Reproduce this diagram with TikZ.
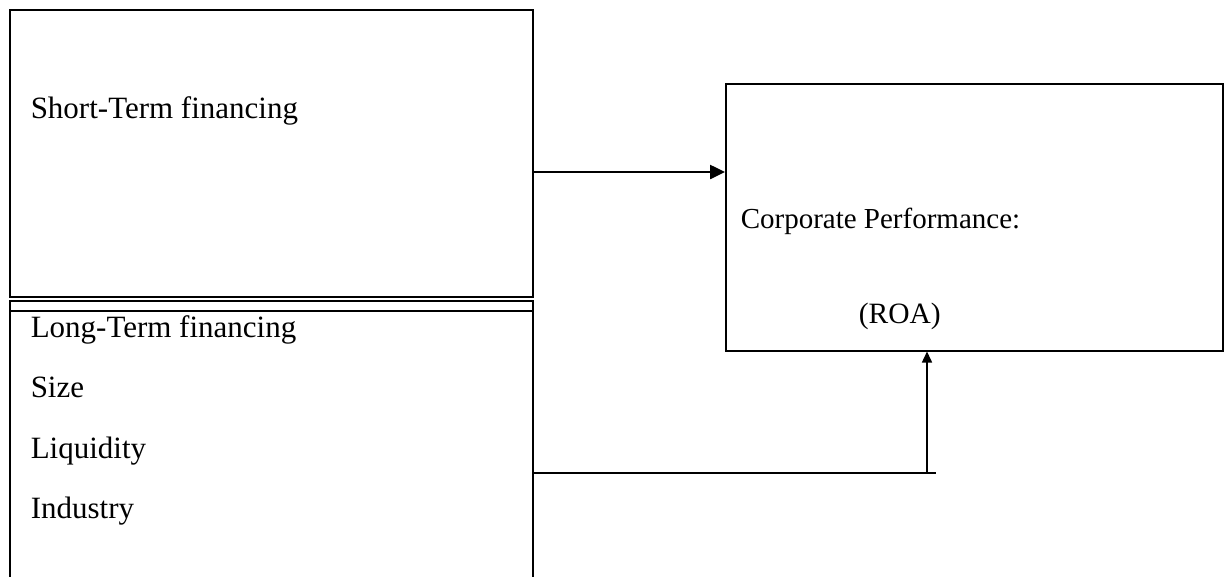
\documentclass[tikz,border=0pt]{standalone}
\usepackage{fontspec}
\setmainfont{Liberation Serif}
\usetikzlibrary{arrows.meta}

\begin{document}
\begin{tikzpicture}
  [x=1pt,y=-1pt,line width=1.5pt,
   box/.style={draw,rectangle,anchor=north west,inner sep=0pt},
   txt/.style={anchor=base west,inner sep=0pt,font=\fontsize{31}{36}\selectfont}]
  \useasboundingbox (0,0) rectangle (1230,576);

  \node[box,minimum width=523,minimum height=287] (short) at (9,9)   {};
  \node[box,minimum width=523,minimum height=10]  (strip) at (9,300) {};
  \node[box,minimum width=523,minimum height=290] (long)  at (9,310) {};
  \node[box,minimum width=497,minimum height=267] (perf)  at (725,83) {};

  \node[txt] (st)  at (30,118)  {Short-Term financing};
  \node[txt] (lt)  at (30,337)  {Long-Term\ financing};
  \node[txt] (sz)  at (30,397)  {Size};
  \node[txt] (liq) at (30,458)  {Liquidity};
  \node[txt] (ind) at (30,518)  {Industry};
  \node[txt,font=\fontsize{29}{36}\selectfont] (cp)  at (740,228) {Corporate Performance:};
  \node[txt,font=\fontsize{29.5}{36}\selectfont] (roa) at (858,323) {(ROA)};

  \coordinate (s1) at (532,172);
  \coordinate (l1) at (532,473);
  \coordinate (l2) at (936,473);
  \coordinate (up) at (927,473);

  \draw[line width=2.5pt,-{Triangle[length=15pt,width=14pt]}] (s1) -- (s1 -| perf.west);
  \draw (l1) -- (l2);
  \draw[-{Triangle[length=11pt,width=10pt]}] (up) -- (up |- perf.south);

\end{tikzpicture}
\end{document}
